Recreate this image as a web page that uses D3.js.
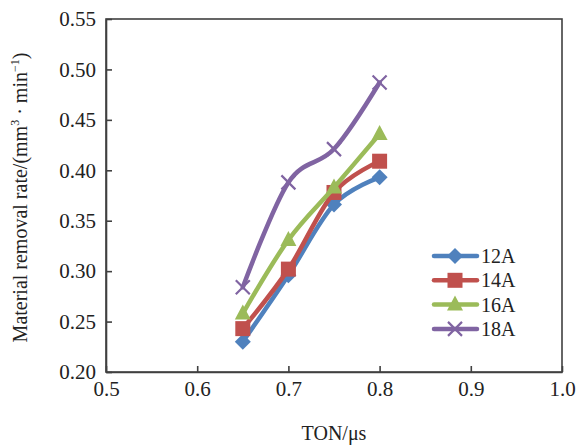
<!DOCTYPE html>
<html>
<head>
<meta charset="utf-8">
<script src="https://cdn.jsdelivr.net/npm/d3@7"></script>
<style>
  body { margin: 0; background: #fff; }
  text { font-family: "Liberation Serif", "Times New Roman", serif; fill: #222; }
</style>
</head>
<body>
<svg width="580" height="445"></svg>
<script>
(function (d3) {
  'use strict'

  const ton = [0.65, 0.7, 0.75, 0.8]
  const seriesNames = ['12A', '14A', '16A', '18A']
  const a12 = [0.230, 0.296, 0.366, 0.393]
  const a14 = [0.243, 0.302, 0.378, 0.409]
  const a16 = [0.258, 0.331, 0.383, 0.436]
  const a18 = [0.284, 0.388, 0.421, 0.487]
  const xTicks = [0.5, 0.6, 0.7, 0.8, 0.9, 1.0]
  const yTicks = [0.20, 0.25, 0.30, 0.35, 0.40, 0.45, 0.50, 0.55]

  const colors = ['#4f81bd', '#c0504d', '#9bbb59', '#8064a2']
  const shapes = ['diamond', 'square', 'triangle', 'cross']

  const series = [a12, a14, a16, a18].map(function (vals, i) {
    return {
      name: seriesNames[i],
      color: colors[i],
      shape: shapes[i],
      points: vals.map(function (v, j) { return { x: ton[j], y: v } })
    }
  })

  const left = 106, right = 562, top = 19, bottom = 372

  const x = d3.scaleLinear().domain([0.5, 1.0]).range([left, right])
  const y = d3.scaleLinear().domain([0.20, 0.55]).range([bottom, top])

  const svg = d3.select('svg')

  // frame
  svg.append('rect')
    .attr('x', left).attr('y', top)
    .attr('width', right - left).attr('height', bottom - top)
    .attr('fill', 'none').attr('stroke', '#404040').attr('stroke-width', 1.6)

  const yAxis = svg.append('g')
    .attr('transform', 'translate(' + left + ',0)')
    .call(d3.axisLeft(y).tickValues(yTicks).tickFormat(d3.format('.2f'))
      .tickSizeInner(-6).tickSizeOuter(0).tickPadding(10))
  const xAxis = svg.append('g')
    .attr('transform', 'translate(0,' + bottom + ')')
    .call(d3.axisBottom(x).tickValues(xTicks).tickFormat(d3.format('.1f'))
      .tickSizeInner(-6).tickSizeOuter(0).tickPadding(9))

  ;[xAxis, yAxis].forEach(function (g) {
    g.select('.domain').attr('stroke', '#404040').attr('stroke-width', 1.6)
    g.selectAll('.tick line').attr('stroke', '#404040').attr('stroke-width', 1.6)
    g.selectAll('.tick text')
      .attr('font-family', '"Liberation Serif", serif')
      .attr('font-size', 21).attr('fill', '#222')
  })

  // axis titles
  svg.append('text')
    .attr('x', (left + right) / 2 - 0).attr('y', 440)
    .attr('text-anchor', 'middle').attr('font-size', 20)
    .text('TON/μs')

  const yt = svg.append('text')
    .attr('transform', 'translate(27,' + ((top + bottom) / 2 + 2) + ') rotate(-90)')
    .attr('text-anchor', 'middle').attr('font-size', 20)
  yt.append('tspan').text('Material removal rate/(mm')
  yt.append('tspan').attr('font-size', 12).attr('dy', -8).text('3')
  yt.append('tspan').attr('dy', 8).text(' · min')
  yt.append('tspan').attr('font-size', 12).attr('dy', -8).text('−1')
  yt.append('tspan').attr('dy', 8).text(')')

  function marker (g, shape, color) {
    if (shape === 'diamond') {
      g.append('path').attr('d', 'M0,-8L8,0L0,8L-8,0Z').attr('fill', color)
    } else if (shape === 'square') {
      g.append('rect').attr('x', -7.5).attr('y', -7.5).attr('width', 15).attr('height', 15).attr('fill', color)
    } else if (shape === 'triangle') {
      g.append('path').attr('d', 'M0,-9L8,6L-8,6Z').attr('fill', color)
    } else {
      g.append('path').attr('d', 'M-7,-7L7,7M-7,7L7,-7')
        .attr('stroke', color).attr('stroke-width', 2.2).attr('fill', 'none')
    }
  }

  const line = d3.line()
    .x(function (d) { return x(d.x) })
    .y(function (d) { return y(d.y) })
    .curve(d3.curveCardinal.tension(0))

  const plot = svg.append('g')
  series.forEach(function (s) {
    const g = plot.append('g')
    g.append('path')
      .attr('d', line(s.points))
      .attr('fill', 'none').attr('stroke', s.color)
      .attr('stroke-width', 4.5).attr('stroke-linejoin', 'round').attr('stroke-linecap', 'round')
    g.selectAll('g.pt').data(s.points).enter().append('g')
      .attr('class', 'pt')
      .attr('transform', function (d) { return 'translate(' + x(d.x) + ',' + y(d.y) + ')' })
      .each(function () { marker(d3.select(this), s.shape, s.color) })
  })

  // legend
  const legend = svg.append('g').attr('class', 'legend')
  series.forEach(function (s, i) {
    const row = legend.append('g').attr('transform', 'translate(0,' + (256 + i * 24.3) + ')')
    row.append('line').attr('x1', 434).attr('x2', 477).attr('y1', 0).attr('y2', 0)
      .attr('stroke', s.color).attr('stroke-width', 4.5).attr('stroke-linecap', 'round')
    marker(row.append('g').attr('transform', 'translate(455,0)'), s.shape, s.color)
    row.append('text').attr('x', 481).attr('y', 7).attr('font-size', 20).text(s.name)
  })
}(d3))
</script>
</body>
</html>
